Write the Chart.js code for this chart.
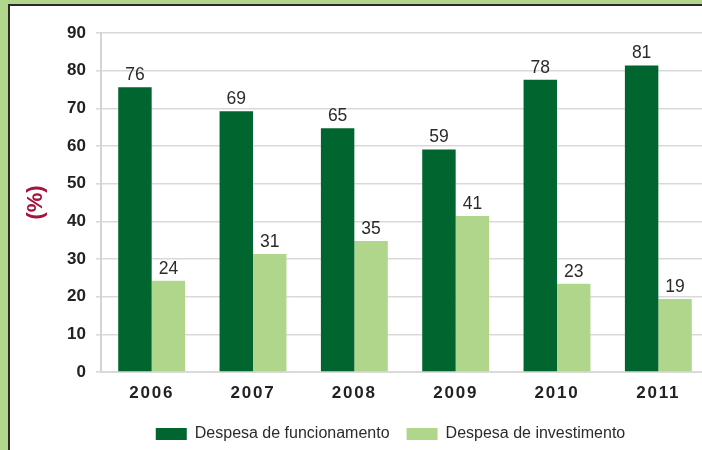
<!DOCTYPE html>
<html>
<head>
<meta charset="utf-8">
<script src="https://cdn.jsdelivr.net/npm/chart.js@4/dist/chart.umd.min.js"></script>
<style>
  html, body { margin: 0; padding: 0; overflow: hidden; background: #b1d68c; width: 702px; height: 450px; }
  #panel { position: absolute; left: 8px; top: 4px; width: 720px; height: 460px; background: #fff;
           border-left: 2px solid #2a2a2a; border-top: 2px solid #2a2a2a; }
  #chart { position: absolute; left: 0; top: 0; }
</style>
</head>
<body>
<div id="panel"></div>
<canvas id="chart" width="720" height="450"></canvas>
<script>
// anos e valores (%)
const anos = ['2006', '2007', '2008', '2009', '2010', '2011'];
const funcionamento = [75.6, 69.2, 64.7, 59.1, 77.6, 81.4];
const investimento = [24.2, 31.3, 34.8, 41.4, 23.4, 19.4];
const yTicks = [0, 10, 20, 30, 40, 50, 60, 70, 80, 90];

const FONT = '"Liberation Sans", Arial, sans-serif';
const DARK = '#00652f';
const LIGHT = '#afd68b';

// rotulos de valor por cima das barras
const valueLabels = {
    id: 'valueLabels',
    afterDatasetsDraw(chart) {
        const ctx = chart.ctx;
        ctx.save();
        ctx.font = '17.5px ' + FONT;
        ctx.fillStyle = '#2b2b2b';
        ctx.textAlign = 'center';
        ctx.textBaseline = 'alphabetic';
        chart.data.datasets.forEach((ds, i) => {
            chart.getDatasetMeta(i).data.forEach((bar, j) => {
                ctx.fillText(String(Math.round(ds.data[j])), bar.x, bar.y - 7);
            });
        });
        ctx.restore();
    }
};

// espacamento entre letras nos anos + legenda deslocada
const tweaks = {
    id: 'tweaks',
    afterLayout(chart) {
        const x = chart.scales.x;
        if (!x._wrapped) {
            const orig = x.drawLabels;
            x.drawLabels = function (area) {
                const ctx = this.ctx;
                ctx.save();
                ctx.letterSpacing = '1.8px';
                orig.call(this, area);
                ctx.restore();
            };
            x._wrapped = true;
        }
        chart.legend.left += 36;
        chart.legend.right += 36;
        chart.legend.top += 5;
        chart.legend.bottom += 5;
    }
};

new Chart(document.getElementById('chart'), {
    type: 'bar',
    data: {
        labels: anos,
        datasets: [
            { label: 'Despesa de funcionamento', data: funcionamento, backgroundColor: DARK },
            { label: 'Despesa de investimento', data: investimento, backgroundColor: LIGHT }
        ]
    },
    options: {
        responsive: false,
        animation: false,
        categoryPercentage: 0.66,
        barPercentage: 1.0,
        layout: { padding: { top: 33, right: 11, left: 0, bottom: 3 } },
        scales: {
            y: {
                min: 0,
                max: 90,
                afterBuildTicks(s) { s.ticks = yTicks.map(v => ({ value: v })); },
                afterFit(s) { s.width = 101; },
                grid: { color: '#d9d9d9', lineWidth: 1.6, tickLength: 5 },
                border: { color: '#d4d4d4', width: 2 },
                ticks: {
                    padding: 10,
                    color: '#222',
                    font: { family: FONT, size: 17, weight: 'bold' }
                },
                title: {
                    display: true,
                    text: '(%)',
                    color: '#a6133c',
                    padding: { top: 23, bottom: 0 },
                    font: { family: FONT, size: 22, weight: 'bold' }
                }
            },
            x: {
                afterFit(s) { s.height = 32; },
                grid: { display: false },
                border: { color: '#d9d9d9', width: 2 },
                ticks: {
                    padding: 3,
                    color: '#222',
                    font: { family: FONT, size: 17, weight: 'bold' }
                }
            }
        },
        plugins: {
            legend: {
                position: 'bottom',
                labels: {
                    boxWidth: 31,
                    boxHeight: 12,
                    padding: 17,
                    color: '#2b2b2b',
                    font: { family: FONT, size: 16 }
                }
            },
            tooltip: { enabled: false }
        }
    },
    plugins: [valueLabels, tweaks]
});
</script>
</body>
</html>
